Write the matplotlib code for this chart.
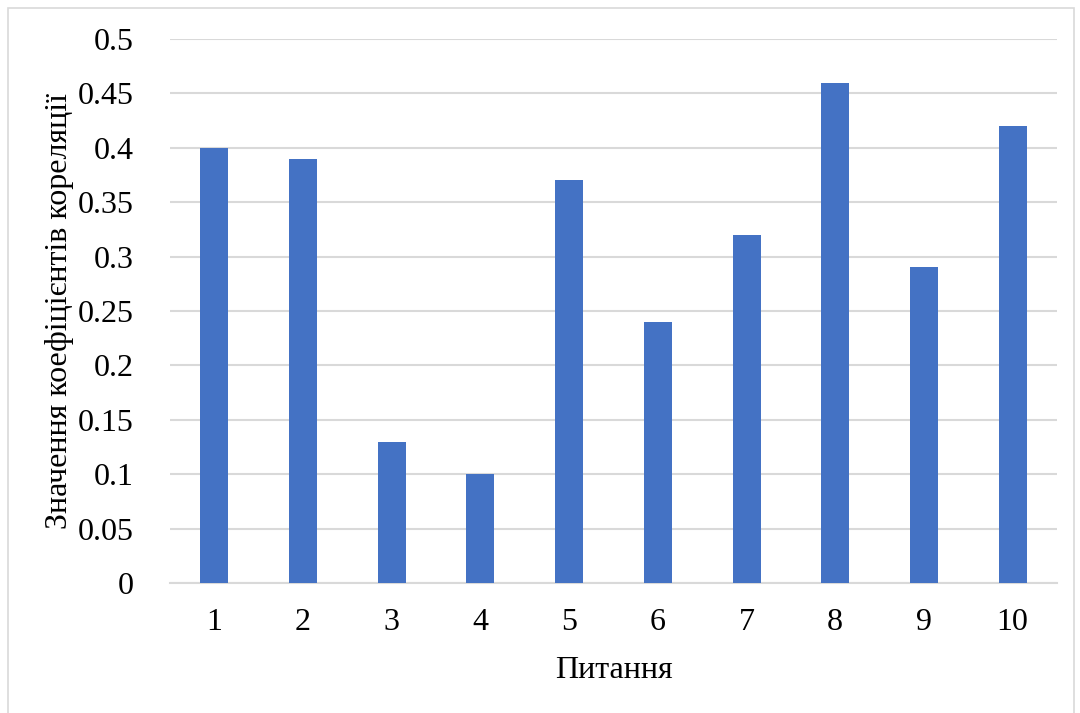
import matplotlib.pyplot as plt
from matplotlib.patches import Rectangle

questions = ['1', '2', '3', '4', '5', '6', '7', '8', '9', '10']
correlations = [0.40, 0.39, 0.13, 0.10, 0.37, 0.24, 0.32, 0.46, 0.29, 0.42]
y_ticks = [0, 0.05, 0.1, 0.15, 0.2, 0.25, 0.3, 0.35, 0.4, 0.45, 0.5]
y_tick_labels = ['0', '0.05', '0.1', '0.15', '0.2', '0.25', '0.3', '0.35', '0.4', '0.45', '0.5']

plt.rcParams['font.family'] = ['Liberation Serif', 'DejaVu Serif']

fig = plt.figure(figsize=(10.8, 7.13), dpi=100)
ax = fig.add_axes([0.1574, 0.1823, 0.8213, 0.7630])

# chart frame
fig.patches.append(Rectangle((8 / 1080, -0.01), 1066 / 1080, 1 - 8 / 713 + 0.01,
                             transform=fig.transFigure, fill=False,
                             edgecolor='#d9d9d9', linewidth=1.2))

positions = range(1, len(questions) + 1)
ax.bar(positions, correlations, width=0.316, color='#4472C4', zorder=3)

ax.set_xlim(0.5, len(questions) + 0.5)
ax.set_ylim(0, 0.5)
ax.set_xticks(list(positions))
ax.set_xticklabels(questions)
ax.set_yticks(y_ticks)
ax.set_yticklabels(y_tick_labels)
ax.tick_params(axis='both', length=0, labelsize=23, colors='black')
ax.tick_params(axis='x', pad=18)
ax.tick_params(axis='y', pad=26)

ax.grid(axis='y', color='#d9d9d9', linewidth=1.5, zorder=0)
for side in ['top', 'right', 'left']:
    ax.spines[side].set_visible(False)
ax.spines['bottom'].set_color('#d9d9d9')
ax.spines['bottom'].set_linewidth(1.5)

ax.set_xlabel('Питання', fontsize=23, labelpad=14)
ax.set_ylabel('Значення коефіцієнтів кореляції', fontsize=23)
ax.yaxis.set_label_coords(-0.108, 0.5)

fig.savefig('out.png', dpi=100)
